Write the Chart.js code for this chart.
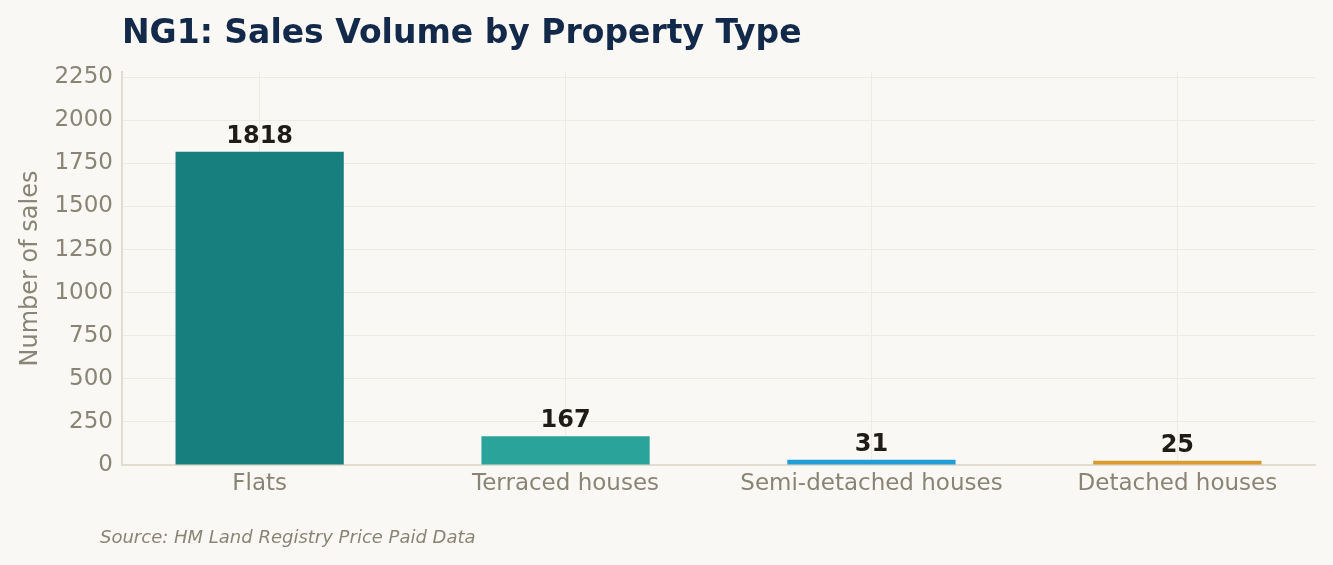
<!DOCTYPE html>
<html>
<head>
<meta charset="utf-8">
<script src="https://cdn.jsdelivr.net/npm/chart.js@4.4.1/dist/chart.umd.min.js"></script>
<style>
  html, body { margin: 0; padding: 0; background: #f9f8f4; }
  #wrap { width: 1333px; height: 565px; }
</style>
</head>
<body>
<div id="wrap"><canvas id="chart"></canvas></div>
<script>
const categories = ['Flats', 'Terraced houses', 'Semi-detached houses', 'Detached houses'];
const salesCounts = [1818, 167, 31, 25];
const barColors = ['#17807e', '#2aa39a', '#219ed8', '#d99a30'];
const yTicks = [0, 250, 500, 750, 1000, 1250, 1500, 1750, 2000, 2250];

const titleText = 'NG1: Sales Volume by Property Type';
const sourceText = 'Source: HM Land Registry Price Paid Data';
const font = "'DejaVu Sans', sans-serif";

// title, source line and value labels
const annotate = {
  id: 'annotate',
  afterDatasetsDraw(chart) {
    const ctx = chart.ctx;
    const area = chart.chartArea;
    ctx.save();
    ctx.fillStyle = '#12294a';
    ctx.font = 'bold 33px ' + font;
    ctx.textBaseline = 'alphabetic';
    ctx.textAlign = 'left';
    ctx.fillText(titleText, area.left, 43);

    ctx.fillStyle = '#8a8474';
    ctx.font = 'italic 18px ' + font;
    ctx.fillText(sourceText, 100, 543);

    ctx.fillStyle = '#1f1b16';
    ctx.font = 'bold 24px ' + font;
    ctx.textAlign = 'center';
    const meta = chart.getDatasetMeta(0);
    meta.data.forEach((bar, i) => {
      ctx.fillText(String(salesCounts[i]), bar.x, bar.y - 9);
    });
    ctx.restore();
  }
};

new Chart(document.getElementById('chart'), {
  type: 'bar',
  data: {
    datasets: [{
      data: salesCounts.map((v, i) => ({ x: i, y: v })),
      backgroundColor: barColors,
      borderWidth: 0,
      categoryPercentage: 1,
      barPercentage: 0.55
    }]
  },
  options: {
    responsive: true,
    maintainAspectRatio: false,
    animation: false,
    layout: { padding: { top: 72, right: 18, bottom: 58, left: 0 } },
    plugins: {
      legend: { display: false },
      tooltip: { enabled: false }
    },
    scales: {
      x: {
        type: 'linear',
        offset: false,
        min: -0.45,
        max: 3.45,
        afterBuildTicks: (scale) => { scale.ticks = categories.map((c, i) => ({ value: i })); },
        afterFit: (scale) => { scale.height = 42; },
        ticks: {
          callback: (v) => categories[v],
          color: '#8a8474',
          font: { family: font, size: 23 },
          padding: 5,
          maxRotation: 0,
          autoSkip: false
        },
        grid: { offset: false, color: '#eeebe4', lineWidth: 1, drawTicks: false },
        border: { color: '#e2ddd0', width: 2 }
      },
      y: {
        min: 0,
        max: 2280,
        afterBuildTicks: (scale) => { scale.ticks = yTicks.map(v => ({ value: v })); },
        afterFit: (scale) => { scale.width = 122; },
        ticks: {
          callback: (v) => String(v),
          color: '#8a8474',
          font: { family: font, size: 23 },
          padding: 9
        },
        grid: { color: '#eeebe4', lineWidth: 1, drawTicks: false },
        border: { color: '#e2ddd0', width: 2 },
        title: {
          display: true,
          text: 'Number of sales',
          color: '#8a8474',
          font: { family: font, size: 24 },
          padding: { top: 16, bottom: 0 }
        }
      }
    }
  },
  plugins: [annotate]
});
</script>
</body>
</html>
